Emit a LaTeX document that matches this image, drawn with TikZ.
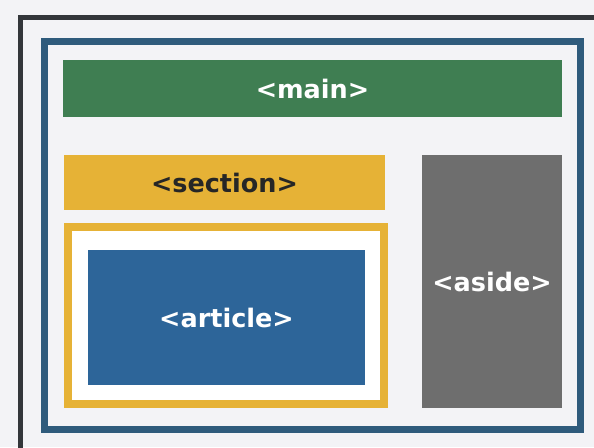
\documentclass[tikz,border=0pt]{standalone}
\usepackage{fontspec}
\setmainfont{DejaVu Sans}
\usepackage{tikz}
\definecolor{pagebg}{HTML}{F3F3F6}
\definecolor{framedark}{HTML}{33363A}
\definecolor{frameblue}{HTML}{2F5B7C}
\definecolor{maingreen}{HTML}{3F7E52}
\definecolor{sectiongold}{HTML}{E6B236}
\definecolor{articleblue}{HTML}{2D6599}
\definecolor{asidegray}{HTML}{6E6E6E}
\def\tagsize{\fontsize{25.5}{30}\selectfont\bfseries}

\begin{document}
\begin{tikzpicture}[x=1pt,y=-1pt]
    \tikzstyle{block}=[rectangle,inner sep=0pt,font=\tagsize]
    \tikzstyle{frame}=[block,draw,fill=none]
    \tikzstyle{main block}=[block,fill=maingreen,text=white];
    \tikzstyle{section block}=[block,fill=sectiongold,text=black!85];
    \tikzstyle{article block}=[block,fill=articleblue,text=white];
    \tikzstyle{aside block}=[block,fill=asidegray,text=white];

    % Page and clipping
    \fill[pagebg] (0,0) rectangle (594,447);
    \useasboundingbox (0,0) rectangle (594,447);
    \clip (0,0) rectangle (594,447);

    % Draw the outer frames
    \node[frame,draw=framedark,line width=5pt,minimum width=579.5pt,minimum height=443pt] (body) at (310.25,238.5) {};
    \node[frame,draw=frameblue,line width=7pt,minimum width=536pt,minimum height=388pt] (wrap) at (312,235) {};

    % Draw the content blocks
    \node[main block,minimum width=499pt,minimum height=57pt] (main) at (312.5,88.5) {<main>};
    \node[section block,minimum width=321pt,minimum height=55pt] (section) at (224.5,182.5) {<section>};
    \node[frame,draw=sectiongold,fill=white,line width=8pt,minimum width=316pt,minimum height=177pt] (holder) at (226,315.5) {};
    \node[article block,minimum width=277pt,minimum height=135pt] (article) at (226.5,317.5) {<article>};
    \node[aside block,minimum width=140pt,minimum height=253pt] (aside) at (492,281.5) {<aside>};
\end{tikzpicture}
\end{document}
